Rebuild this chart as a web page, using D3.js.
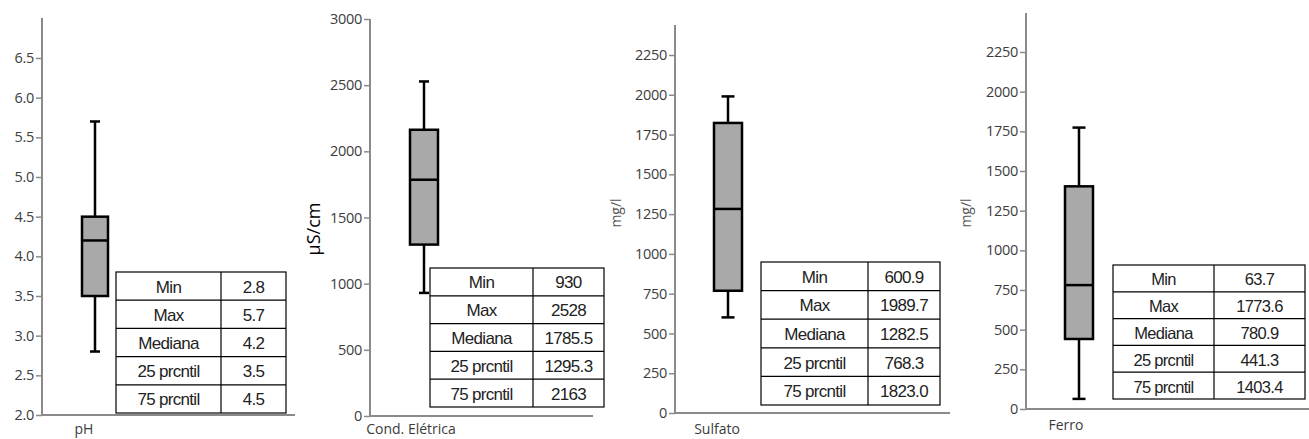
<!DOCTYPE html>
<html>
<head>
<meta charset="utf-8">
<script src="https://cdn.jsdelivr.net/npm/d3@7"></script>
<style>
  html, body { margin: 0; padding: 0; background: #fff; }
  svg { display: block; }
</style>
</head>
<body>
<svg id="chart" width="1309" height="439"></svg>
<script>
// ---- Data ----
const categories = ["pH", "Cond. Elétrica", "Sulfato", "Ferro"];
const unitLabels = ["", "µS/cm", "mg/l", "mg/l"];
const minValues = [2.8, 930, 600.9, 63.7];
const maxValues = [5.7, 2528, 1989.7, 1773.6];
const medianValues = [4.2, 1785.5, 1282.5, 780.9];
const q1Values = [3.5, 1295.3, 768.3, 441.3];
const q3Values = [4.5, 2163, 1823.0, 1403.4];
const statLabels = ["Min", "Max", "Mediana", "25 prcntil", "75 prcntil"];
const statTexts = [
  ["2.8", "5.7", "4.2", "3.5", "4.5"],
  ["930", "2528", "1785.5", "1295.3", "2163"],
  ["600.9", "1989.7", "1282.5", "768.3", "1823.0"],
  ["63.7", "1773.6", "780.9", "441.3", "1403.4"]
];
const tickValues = [
  [2.0, 2.5, 3.0, 3.5, 4.0, 4.5, 5.0, 5.5, 6.0, 6.5],
  [0, 500, 1000, 1500, 2000, 2500, 3000],
  [0, 250, 500, 750, 1000, 1250, 1500, 1750, 2000, 2250],
  [0, 250, 500, 750, 1000, 1250, 1500, 1750, 2000, 2250]
];
const tickFormats = [".1f", "d", "d", "d"];

// ---- Layout (pixels) ----
const layout = [
  { ax: 42,   yBot: 415, yTopTick: 58, axTop: 18, xEnd: 295, bx: 95,   bw: 26, cap: 10,
    tx: 116, tdiv: 221, tr: 286, ty: 272, tb: 413, fs: 17,
    lx: 84, ly: 434, ux: 0, uy: 0, uColor: "#000", uSize: 0 },
  { ax: 370,  yBot: 416, yTopTick: 19, axTop: 19, xEnd: 593, bx: 424,  bw: 28, cap: 10,
    tx: 430, tdiv: 533, tr: 604, ty: 268, tb: 407, fs: 17,
    lx: 411, ly: 434, ux: 313, uy: 229, uColor: "#000", uSize: 18 },
  { ax: 675,  yBot: 413, yTopTick: 55, axTop: 25, xEnd: 950, bx: 728,  bw: 28, cap: 13,
    tx: 761, tdiv: 868, tr: 940, ty: 262, tb: 405, fs: 17,
    lx: 717, ly: 434, ux: 615, uy: 213, uColor: "#555", uSize: 14 },
  { ax: 1026, yBot: 409, yTopTick: 52, axTop: 13, xEnd: 1309, bx: 1079, bw: 28, cap: 13,
    tx: 1113, tdiv: 1214, tr: 1305, ty: 265, tb: 399, fs: 16.5,
    lx: 1066, ly: 430, ux: 965, uy: 213, uColor: "#555", uSize: 14 }
];

const svg = d3.select("#chart");
const axisColor = "#8a8a8a";
const tickTextColor = "#3c3c3c";

categories.forEach((cat, i) => {
  const L = layout[i];
  const tv = tickValues[i];
  const y = d3.scaleLinear()
    .domain([tv[0], tv[tv.length - 1]])
    .range([L.yBot, L.yTopTick]);
  const g = svg.append("g");

  // y axis
  const axis = d3.axisLeft(y).tickValues(tv).tickFormat(d3.format(tickFormats[i]))
    .tickSize(6).tickPadding(2);
  const ag = g.append("g").attr("transform", `translate(${L.ax},0)`).call(axis);
  ag.select(".domain").remove();
  ag.selectAll(".tick line").attr("stroke", axisColor).attr("stroke-width", 1.5);
  ag.selectAll(".tick text").attr("fill", tickTextColor)
    .style("font-family", "'Open Sans', sans-serif").style("font-size", "14.5px")
    .style("letter-spacing", "-0.3px");
  g.append("line").attr("x1", L.ax).attr("x2", L.ax).attr("y1", L.axTop).attr("y2", L.yBot + 1)
    .attr("stroke", axisColor).attr("stroke-width", 2);
  g.append("line").attr("x1", L.ax).attr("x2", L.xEnd).attr("y1", L.yBot).attr("y2", L.yBot)
    .attr("stroke", axisColor).attr("stroke-width", 2);

  // category label
  g.append("text").attr("x", L.lx).attr("y", L.ly).attr("text-anchor", "middle")
    .attr("fill", "#3c3c3c").style("font-family", "'Open Sans', sans-serif").style("font-size", "14px")
    .text(cat);

  // unit label
  if (unitLabels[i]) {
    g.append("text").attr("transform", `translate(${L.ux},${L.uy}) rotate(-90)`)
      .attr("text-anchor", "middle").attr("dominant-baseline", "central")
      .attr("fill", L.uColor).style("font-family", "'Open Sans', sans-serif")
      .style("font-size", L.uSize + "px").text(unitLabels[i]);
  }

  // box plot
  const cx = L.bx;
  const sw = 2.5;
  g.append("line").attr("x1", cx).attr("x2", cx).attr("y1", y(maxValues[i])).attr("y2", y(q3Values[i]))
    .attr("stroke", "#000").attr("stroke-width", sw);
  g.append("line").attr("x1", cx).attr("x2", cx).attr("y1", y(q1Values[i])).attr("y2", y(minValues[i]))
    .attr("stroke", "#000").attr("stroke-width", sw);
  [maxValues[i], minValues[i]].forEach(v => {
    g.append("line").attr("x1", cx - L.cap / 2).attr("x2", cx + L.cap / 2)
      .attr("y1", y(v)).attr("y2", y(v)).attr("stroke", "#000").attr("stroke-width", sw);
  });
  g.append("rect").attr("x", cx - L.bw / 2).attr("width", L.bw)
    .attr("y", y(q3Values[i])).attr("height", y(q1Values[i]) - y(q3Values[i]))
    .attr("fill", "#a9a9a9").attr("stroke", "#000").attr("stroke-width", sw);
  g.append("line").attr("x1", cx - L.bw / 2).attr("x2", cx + L.bw / 2)
    .attr("y1", y(medianValues[i])).attr("y2", y(medianValues[i]))
    .attr("stroke", "#000").attr("stroke-width", sw);

  // stats table
  const rowH = (L.tb - L.ty) / statLabels.length;
  const tg = g.append("g");
  tg.append("rect").attr("x", L.tx).attr("y", L.ty).attr("width", L.tr - L.tx).attr("height", L.tb - L.ty)
    .attr("fill", "#fff").attr("stroke", "#000").attr("stroke-width", 1.2);
  tg.append("line").attr("x1", L.tdiv).attr("x2", L.tdiv).attr("y1", L.ty).attr("y2", L.tb)
    .attr("stroke", "#000").attr("stroke-width", 1.2);
  statLabels.forEach((lab, r) => {
    const ry = L.ty + r * rowH;
    if (r > 0) {
      tg.append("line").attr("x1", L.tx).attr("x2", L.tr).attr("y1", ry).attr("y2", ry)
        .attr("stroke", "#000").attr("stroke-width", 1.2);
    }
    tg.append("text").attr("x", (L.tx + L.tdiv) / 2).attr("y", ry + rowH / 2 + 1)
      .attr("text-anchor", "middle").attr("dominant-baseline", "central")
      .attr("fill", "#222").style("font-family", "'Liberation Sans', Arial, sans-serif")
      .style("font-size", L.fs + "px").style("letter-spacing", "-0.7px").text(lab);
    tg.append("text").attr("x", (L.tdiv + L.tr) / 2).attr("y", ry + rowH / 2 + 1)
      .attr("text-anchor", "middle").attr("dominant-baseline", "central")
      .attr("fill", "#222").style("font-family", "'Liberation Sans', Arial, sans-serif")
      .style("font-size", L.fs + "px").style("letter-spacing", "-0.7px").text(statTexts[i][r]);
  });
});
</script>
</body>
</html>
